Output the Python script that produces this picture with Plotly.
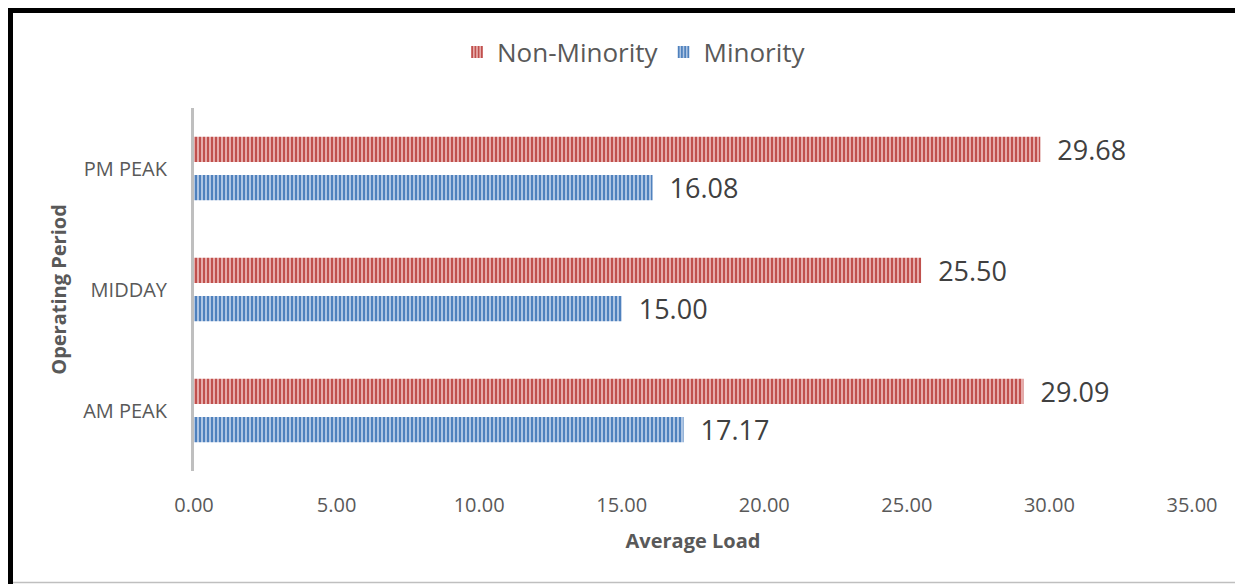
import plotly.graph_objects as go

categories = ["AM PEAK", "MIDDAY", "PM PEAK"]
non_minority = [29.09, 25.50, 29.68]
minority = [17.17, 15.00, 16.08]
x_ticks = [0, 5, 10, 15, 20, 25, 30, 35]
x_tick_labels = ["0.00", "5.00", "10.00", "15.00", "20.00", "25.00", "30.00", "35.00"]

# page has an 8px body margin: reference pixel p -> figure pixel p - 8
OFF = 8
W, H = 1243, 584
L, T = 194 - OFF, 108 - OFF
R = W - (1192 - OFF)
B = H - (471 - OFF)
pw, ph = W - L - R, H - T - B

def px(x):
    return (x - OFF - L) / pw

def py(y):
    return (H - B - (y - OFF)) / ph

label_font = dict(size=27, color="#404040", family="Open Sans")

fig = go.Figure()
fig.add_trace(go.Bar(
    y=categories, x=minority, orientation="h", name="Minority",
    marker=dict(color="#A9C2E3", line=dict(width=0),
                pattern=dict(shape="|", fgcolor="#4F81BD", bgcolor="#B8CDE8",
                             size=4, solidity=0.55, fillmode="replace")),
    text=minority, texttemplate="  %{x:.2f}", textposition="outside",
    textfont=label_font, constraintext="none", cliponaxis=False,
))
fig.add_trace(go.Bar(
    y=categories, x=non_minority, orientation="h", name="Non-Minority",
    marker=dict(color="#E3A9A8", line=dict(width=0),
                pattern=dict(shape="|", fgcolor="#C0504D", bgcolor="#EBB5B4",
                             size=4, solidity=0.55, fillmode="replace")),
    text=non_minority, texttemplate="  %{x:.2f}", textposition="outside",
    textfont=label_font, constraintext="none", cliponaxis=False,
))

shapes = [
    dict(type="line", xref="paper", yref="paper", x0=px(10), x1=px(W + 20),
         y0=py(10), y1=py(10), line=dict(color="black", width=6)),
    dict(type="line", xref="paper", yref="paper", x0=px(10), x1=px(10),
         y0=py(7), y1=py(H + 20), line=dict(color="black", width=6)),
    dict(type="line", xref="paper", yref="paper", x0=px(13), x1=px(W + 20),
         y0=py(582.5), y1=py(582.5), line=dict(color="#BFBFBF", width=1.5)),
]

fig.update_layout(
    width=W, height=H,
    margin=dict(l=L, r=R, t=T, b=B),
    paper_bgcolor="white", plot_bgcolor="white",
    barmode="group", bargap=0.37, bargroupgap=0.34,
    font=dict(family="Open Sans", color="#595959"),
    showlegend=True,
    legend=dict(orientation="h", x=px(634), xanchor="center", y=py(52), yanchor="middle",
                traceorder="reversed", font=dict(size=26, color="#595959"),
                itemwidth=30, tracegroupgap=0),
    xaxis=dict(range=[0, 35], tickvals=x_ticks, ticktext=x_tick_labels,
               showgrid=False, zeroline=False, showline=False,
               tickfont=dict(size=20, color="#595959"), ticklabelstandoff=20,
               title=dict(text="<b>Average Load</b>", font=dict(size=20, color="#595959"),
                          standoff=16)),
    yaxis=dict(showgrid=False, zeroline=False, showline=True, linecolor="#BFBFBF",
               linewidth=3, categoryorder="array", categoryarray=categories,
               tickfont=dict(size=20, color="#595959"), ticklabelstandoff=20,
               title=dict(text="<b>Operating Period</b>", font=dict(size=20, color="#595959"),
                          standoff=12)),
    shapes=shapes,
)

fig.write_html("out.html")
